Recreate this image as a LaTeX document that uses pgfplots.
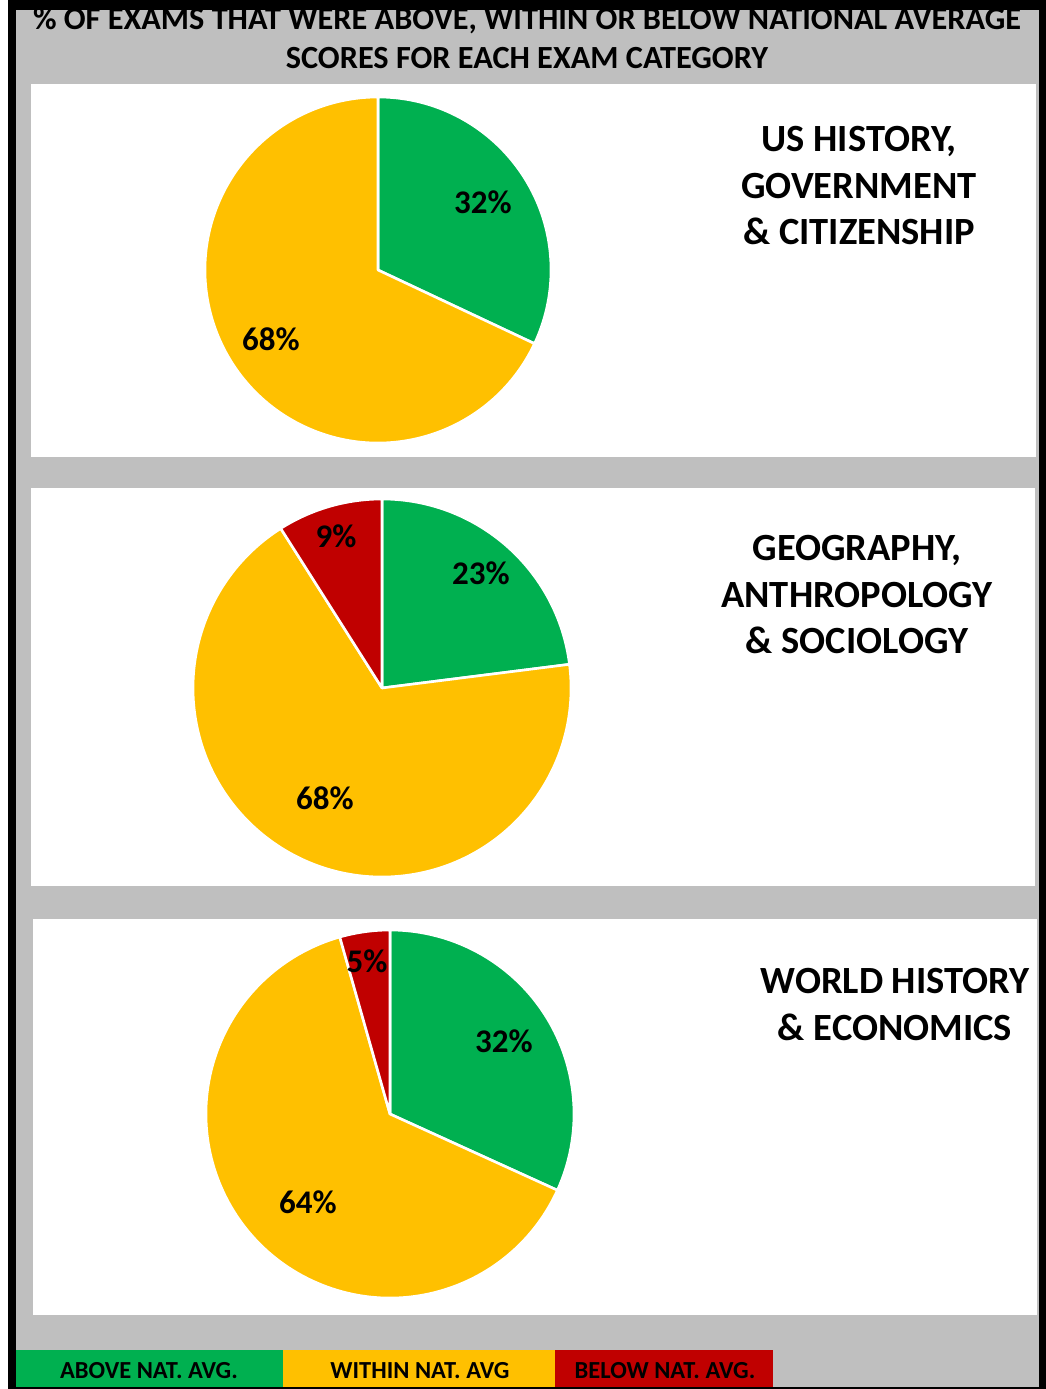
\documentclass[border=0pt]{standalone}
\usepackage{pgfplots}
\pgfplotsset{compat=1.18}
\usepackage{fontspec}
\setmainfont{Carlito}
\definecolor{cgreen}{HTML}{00B050}
\definecolor{cyellow}{HTML}{FFC000}
\definecolor{cred}{HTML}{C00000}
\definecolor{cgrey}{HTML}{BFBFBF}
% slice: cx, cy, r, start pct, end pct, colour
\newcommand{\slice}[6]{%
  \fill[#6, draw=white, line width=2.6bp, line join=round]
    (axis cs:#1,#2) -- ++({90-(#4)*3.6}:#3bp)
    arc[start angle={90-(#4)*3.6}, end angle={90-(#5)*3.6}, radius=#3bp] -- cycle;}
\newcommand{\plab}[3]{\node[anchor=base, font=\fontsize{33bp}{38bp}\selectfont\bfseries] at (axis cs:#1,#2) {#3};}
\begin{document}
\begin{tikzpicture}
\begin{axis}[
  scale only axis, width=1046bp, height=1389bp,
  xmin=0, xmax=1046, ymin=0, ymax=1389, y dir=reverse,
  hide axis, clip=false]
% background and frame
\fill[white] (axis cs:0,0) rectangle (axis cs:1046,1389);
\fill[black] (axis cs:8,0) rectangle (axis cs:1046,1389);
\fill[cgrey] (axis cs:16,10) rectangle (axis cs:1039,1387);
% panels
\fill[white] (axis cs:31,84) rectangle (axis cs:1036,457);
\fill[white] (axis cs:31,488) rectangle (axis cs:1035,886);
\fill[white] (axis cs:33,919) rectangle (axis cs:1037,1315);
% pie 1: above 32, within 68
\slice{378}{270}{173}{0}{32}{cgreen}
\slice{378}{270}{173}{32}{100}{cyellow}
% pie 2: above 23, within 68, below 9
\slice{382}{688}{189}{0}{23}{cgreen}
\slice{382}{688}{189}{23}{91}{cyellow}
\slice{382}{688}{189}{91}{100}{cred}
% pie 3: above 31.8, within 63.8, below 4.4
\slice{390}{1114}{184}{0}{31.8}{cgreen}
\slice{390}{1114}{184}{31.8}{95.6}{cyellow}
\slice{390}{1114}{184}{95.6}{100}{cred}
% pie labels
\plab{483}{214}{32\%}
\plab{271}{350}{68\%}
\plab{336}{547}{9\%}
\plab{481}{584}{23\%}
\plab{325}{809}{68\%}
\plab{367}{972}{5\%}
\plab{504}{1052}{32\%}
\plab{308}{1213}{64\%}
% category titles
\begin{scope}[every node/.style={anchor=base, font=\fontsize{38.5bp}{42bp}\selectfont\bfseries}]
\node at (axis cs:859,152) {US HISTORY,};
\node at (axis cs:859,199) {GOVERNMENT};
\node at (axis cs:859,245) {\& CITIZENSHIP};
\node at (axis cs:857,560) {GEOGRAPHY,};
\node at (axis cs:857,607) {ANTHROPOLOGY};
\node at (axis cs:857,653) {\& SOCIOLOGY};
\node at (axis cs:895,993) {WORLD HISTORY};
\node at (axis cs:895,1040) {\& ECONOMICS};
\end{scope}
% legend
\fill[cgreen] (axis cs:16,1350) rectangle (axis cs:283,1387);
\fill[cyellow] (axis cs:283,1350) rectangle (axis cs:555,1387);
\fill[cred] (axis cs:555,1350) rectangle (axis cs:773,1387);
\begin{scope}[every node/.style={anchor=base, font=\fontsize{24.5bp}{28bp}\selectfont\bfseries}]
\node at (axis cs:149,1378) {ABOVE NAT. AVG.};
\node at (axis cs:420,1378) {WITHIN NAT. AVG};
\node at (axis cs:665,1378) {BELOW NAT. AVG.};
\end{scope}
% title
\begin{scope}[every node/.style={anchor=base, font=\fontsize{32.3bp}{36bp}\selectfont\bfseries}]
\node at (axis cs:527,30) {\% OF EXAMS THAT WERE ABOVE, WITHIN OR BELOW NATIONAL AVERAGE};
\node at (axis cs:527,69) {SCORES FOR EACH EXAM CATEGORY};
\end{scope}
\fill[black] (axis cs:8,-40) rectangle (axis cs:1046,10);
\fill[white] (axis cs:0,-40) rectangle (axis cs:1046,0);
\end{axis}
\pgfresetboundingbox
\useasboundingbox (0,0) rectangle (1046bp,1389bp);
\end{tikzpicture}
\end{document}
